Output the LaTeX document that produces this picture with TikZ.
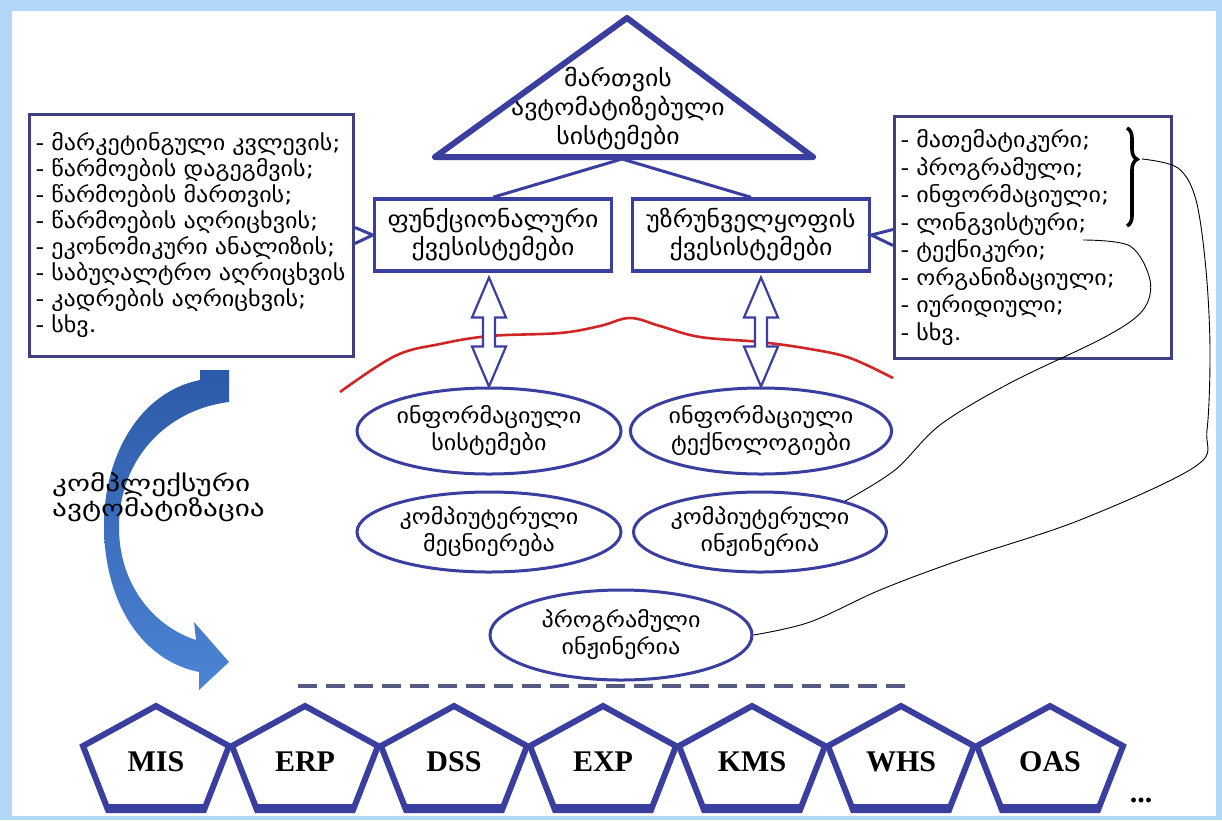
\documentclass[tikz,border=0pt]{standalone}
\usepackage{fontspec}
\setmainfont{DejaVu Sans}[FakeStretch=1.12]
\newfontfamily\widegeo{DejaVu Sans}[FakeStretch=1.3]
\newfontfamily\tagfont{Liberation Serif}
\usetikzlibrary{calc,shapes.geometric,decorations.pathreplacing}
\definecolor{Rim}{HTML}{B3D7F8}
\definecolor{Indigo}{HTML}{3A3F9F}
\definecolor{Ink}{HTML}{3E4080}
\definecolor{Ridge}{HTML}{D02626}
\definecolor{SweepTop}{HTML}{2D5AA8}
\definecolor{SweepBot}{HTML}{4C84D4}
\definecolor{Dashes}{HTML}{555A80}
\newcommand{\geo}{\fontsize{21.5}{26}\selectfont}
\tikzset{
  x=1pt, y=-1pt,
  listbox/.style={draw=Ink, line width=3pt, anchor=north west, align=left,
                  font=\geo, inner xsep=6pt, minimum height=242pt},
  subbox/.style={draw=Indigo, line width=3.5pt, minimum width=237pt,
                 minimum height=72pt, align=center, font=\fontsize{23}{28}\selectfont},
  oval/.style={ellipse, draw=Indigo, line width=3pt, minimum width=264pt,
               minimum height=86pt, inner sep=0pt, align=center,
               font=\fontsize{21.5}{27}\selectfont},
  hollow/.style={draw=Indigo, line width=2.2pt, fill=white, line join=miter},
  link/.style={draw=Indigo, line width=3pt},
  thread/.style={draw=black, line width=0.9pt},
  pent/.style={draw=Indigo, line width=6pt, line join=miter},
  tag/.style={font=\tagfont\bfseries\fontsize{30}{32}\selectfont, inner sep=0pt},
}
\begin{document}
\begin{tikzpicture}
  \useasboundingbox (0,0) rectangle (1222,820);
  \fill[Rim] (0,0) rectangle (1222,820);
  \fill[white] (12,11) rectangle (1216,816);

  \coordinate (T1) at (627,18);
  \coordinate (T2) at (435,157);
  \coordinate (T3) at (813,157);
  \coordinate (tribase) at (622,159);
  \draw[Indigo, line width=6pt, line join=round] (T1) -- (T2) -- (T3) -- cycle;
  \node[align=center, font=\fontsize{23}{29}\selectfont] (T) at (618,109)
    {მართვის\\ავტომატიზებული\\სისტემები};

  \node[subbox] (F1) at (493,235) {ფუნქციონალური\\ქვესისტემები};
  \node[subbox] (F2) at (751,235) {უზრუნველყოფის\\ქვესისტემები};
  \draw[link] (tribase) -- (F1.north);
  \draw[link] (tribase) -- (F2.north);

  \node[listbox, text width=312pt] (L) at (28,113)
    {- მარკეტინგული კვლევის;\\
     - წარმოების დაგეგმვის;\\
     - წარმოების მართვის;\\
     - წარმოების აღრიცხვის;\\
     - ეკონომიკური ანალიზის;\\
     - საბუღალტრო აღრიცხვის\\
     - კადრების აღრიცხვის;\\
     - სხვ.};
  \node[listbox, text width=265pt, font=\fontsize{21.5}{27.5}\selectfont] (R) at (893,115)
    {- მათემატიკური;\\
     - პროგრამული;\\
     - ინფორმაციული;\\
     - ლინგვისტური;\\
     - ტექნიკური;\\
     - ორგანიზაციული;\\
     - იურიდიული;\\
     - სხვ.};
  \draw[link] ($(L.east)+(0,-8)$) -- (F1.west) -- ($(L.east)+(0,8)$);
  \draw[link] ($(R.west)+(0,-8)$) -- (F2.east) -- ($(R.west)+(0,8)$);

  \draw[Ridge, line width=2.6pt] plot[smooth, tension=0.6] coordinates
    {(340,392) (395,356) (440,344) (490,336) (560,333) (600,326) (630,318)
     (660,326) (700,337) (760,342) (810,349) (850,358) (893,378)};

  \node[oval] (IS) at (489,431) {ინფორმაციული\\სისტემები};
  \node[oval, minimum width=252pt] (IT) at (761,431) {ინფორმაციული\\ტექნოლოგიები};
  \node[oval, minimum height=80pt] (CS) at (489,532) {კომპიუტერული\\მეცნიერება};
  \node[oval, minimum width=252pt, minimum height=80pt] (CE) at (760,532) {კომპიუტერული\\ინჟინერია};
  \node[oval, minimum width=262pt, minimum height=90pt] (PE) at (621,635) {პროგრამული\\ინჟინერია};

  \draw[hollow] (IS.north) -- ++(17,-40) -- ++(-11,0) -- ++(0,-29) -- ++(11,0)
    -- ++(-17,-40) -- ++(-17,40) -- ++(11,0) -- ++(0,29) -- ++(-11,0) -- cycle;
  \draw[hollow] (IT.north) -- ++(17,-40) -- ++(-11,0) -- ++(0,-29) -- ++(11,0)
    -- ++(-17,-40) -- ++(-17,40) -- ++(11,0) -- ++(0,29) -- ++(-11,0) -- cycle;

  \draw[decorate, decoration={brace, amplitude=10pt, aspect=0.32}, line width=3.6pt]
    (1127,128) -- (1127,226);
  \coordinate (btip) at (1142,159);
  \coordinate (tech) at (1083,240);
  \draw[thread] plot[smooth, tension=0.55] coordinates
    {(btip) (1178,168) (1196,200) (1206,270) (1210,350) (1207,430) (1196,466)
     (1080,520) (960,560) (880,590) (810,622) (PE.east)};
  \draw[thread] plot[smooth, tension=0.55] coordinates
    {(tech) (1130,246) (1150,280) (1143,310) (1105,337) (1010,383) (940,425)
     (895,470) (CE.20)};

  \path[top color=SweepTop, bottom color=SweepBot]
    (200,370) -- (229,370) -- (229,402)
    .. controls (165,410) and (120,460) .. (119,525)
    .. controls (118,580) and (150,625) .. (196,640)
    -- (194,622) -- (229,662) -- (199,690) -- (199,672)
    .. controls (140,660) and (104,600) .. (104,525)
    .. controls (104,455) and (140,392) .. (200,380) -- cycle;
  \node[anchor=west, align=left, font=\widegeo\fontsize{22.5}{23}\selectfont,
        inner sep=0pt] (auto) at (52,497)
    {კომპლექსური\\ავტომატიზაცია};

  \draw[Dashes, line width=4pt, dash pattern=on 19pt off 9pt] (298,686) -- (908,686);

  \foreach \lbl [count=\i] in {MIS,ERP,DSS,EXP,KMS,WHS,OAS} {
    \node[tag] (P\i) at ({156+149*(\i-1)},762) {\lbl};
    \draw[pent] ($(P\i)+(0,-56)$) -- ($(P\i)+(73,-16)$) -- ($(P\i)+(48,48)$)
      -- ($(P\i)+(-48,48)$) -- ($(P\i)+(-73,-16)$) -- cycle;
    \draw[Indigo, line width=9pt] ($(P\i)+(-48,46)$) -- ($(P\i)+(48,46)$);
  }
  \node[tag] (more) at (1141,800) {...};
\end{tikzpicture}
\end{document}
